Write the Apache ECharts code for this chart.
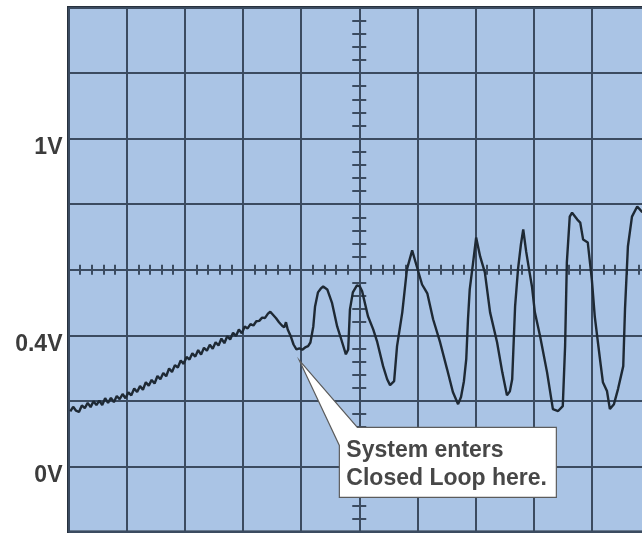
<!DOCTYPE html>
<html>
<head>
<meta charset="utf-8">
<script src="https://cdn.jsdelivr.net/npm/echarts@6/dist/echarts.min.js"></script>
<style>
  html, body { margin: 0; padding: 0; background: #ffffff; }
  #chart { width: 642px; height: 533px; }
</style>
</head>
<body>
<div id="chart"></div>
<script>
// Scope trace: horizontal position in divisions, vertical in volts (0.2 V/div).
// Open-loop ramp up to the moment the controller takes over.
const openLoopTrace = [
  [0.03,0.168],[0.08,0.182],[0.13,0.170],[0.18,0.166],[0.23,0.186],[0.28,0.178],
  [0.33,0.194],[0.38,0.181],[0.43,0.199],[0.48,0.187],[0.53,0.201],[0.58,0.187],
  [0.63,0.208],[0.68,0.194],[0.73,0.209],[0.78,0.196],[0.83,0.215],[0.88,0.205],
  [0.93,0.221],[0.98,0.208],[1.03,0.226],[1.08,0.217],[1.13,0.238],[1.18,0.227],
  [1.23,0.245],[1.28,0.234],[1.33,0.257],[1.38,0.246],[1.43,0.264],[1.48,0.253],
  [1.53,0.276],[1.58,0.266],[1.63,0.285],[1.68,0.275],[1.73,0.299],[1.78,0.288],
  [1.83,0.309],[1.88,0.302],[1.93,0.323],[1.98,0.313],[2.03,0.334],[2.08,0.326],
  [2.13,0.345],[2.18,0.335],[2.23,0.355],[2.28,0.341],[2.33,0.362],[2.38,0.353],
  [2.43,0.371],[2.48,0.359],[2.53,0.379],[2.58,0.369],[2.63,0.390],[2.68,0.376],
  [2.73,0.397],[2.78,0.387],[2.83,0.408],[2.88,0.398],[2.93,0.418],[2.98,0.406],
  [3.03,0.427],[3.08,0.421],[3.13,0.434],[3.18,0.430],[3.23,0.443],[3.28,0.444],
  [3.33,0.454],[3.38,0.453],[3.43,0.466],[3.47,0.472],[3.52,0.462],[3.57,0.452],
  [3.62,0.440],[3.67,0.430],[3.71,0.424],[3.74,0.440],[3.77,0.418],[3.82,0.398],
  [3.87,0.372],[3.92,0.357]
];

// Point where the system enters closed loop.
const loopEntry = [3.97, 0.360];

// Closed-loop oscillation.
const closedLoopTrace = [
  [4.02,0.356],[4.07,0.363],[4.12,0.367],[4.16,0.378],[4.21,0.427],[4.24,0.488],
  [4.29,0.531],[4.34,0.543],[4.38,0.549],[4.41,0.545],[4.45,0.540],[4.53,0.500],
  [4.62,0.427],[4.69,0.388],[4.77,0.342],[4.81,0.357],[4.84,0.479],[4.89,0.531],
  [4.96,0.552],[5.01,0.549],[5.05,0.534],[5.15,0.458],[5.24,0.418],[5.31,0.379],
  [5.41,0.306],[5.48,0.266],[5.53,0.248],[5.60,0.260],[5.65,0.367],[5.74,0.470],
  [5.82,0.601],[5.91,0.659],[5.99,0.610],[6.08,0.555],[6.13,0.540],[6.17,0.528],
  [6.27,0.449],[6.39,0.379],[6.51,0.297],[6.61,0.227],[6.70,0.190],[6.75,0.212],
  [6.80,0.260],[6.84,0.327],[6.87,0.449],[6.90,0.540],[6.96,0.625],[7.01,0.698],
  [7.08,0.640],[7.16,0.592],[7.25,0.470],[7.37,0.379],[7.46,0.287],[7.54,0.217],
  [7.59,0.229],[7.63,0.266],[7.68,0.488],[7.73,0.601],[7.78,0.677],[7.82,0.723],
  [7.87,0.656],[7.92,0.601],[7.97,0.549],[8.02,0.470],[8.11,0.397],[8.23,0.287],
  [8.33,0.175],[8.42,0.169],[8.50,0.184],[8.54,0.367],[8.57,0.622],[8.62,0.762],
  [8.66,0.774],[8.75,0.753],[8.80,0.744],[8.85,0.692],[8.93,0.683],[9.00,0.570],
  [9.05,0.458],[9.14,0.327],[9.19,0.257],[9.26,0.230],[9.31,0.175],[9.38,0.190],
  [9.45,0.236],[9.54,0.306],[9.57,0.479],[9.62,0.671],[9.69,0.762],[9.78,0.793],
  [9.86,0.777],[9.95,0.770]
];

// Vertical scale labels.
const yLabelValues = [0, 0.4, 1];
const yLabelTexts = ['0V', '0.4V', '1V'];

const calloutLines = ['System enters', 'Closed Loop here.'];

const GRID_LINE = '#3b4b60';
const FONT = '"Liberation Sans", Arial, Helvetica, sans-serif';

const chart = echarts.init(document.getElementById('chart'), null, { renderer: 'canvas' });

const hidden = { show: false };
const centreTickStyle = { color: GRID_LINE, width: 2 };

// Helper axis whose zero sits on the horizontal centre line of the screen.
function xCentreTicks(position) {
  return {
    type: 'value', gridIndex: 0, min: 0, max: 10, interval: 1, position: position,
    axisLine: { show: false, onZero: true, onZeroAxisIndex: 1 },
    axisTick: { show: false, inside: false },
    axisLabel: hidden, splitLine: hidden,
    minorTick: { show: true, splitNumber: 5, length: 5, lineStyle: centreTickStyle }
  };
}
// Helper axis placed on the vertical centre line of the screen.
function yCentreTicks(position) {
  return {
    type: 'value', gridIndex: 0, min: -0.2, max: 1.4, interval: 0.2, position: position,
    axisLine: { show: false, onZero: true, onZeroAxisIndex: 3 },
    axisTick: { show: false, inside: false },
    axisLabel: hidden, splitLine: hidden,
    minorTick: { show: true, splitNumber: 5, length: 7, lineStyle: centreTickStyle }
  };
}

chart.setOption({
  animation: false,
  backgroundColor: '#ffffff',
  grid: {
    left: 68.5, top: 7.5, width: 581.5, height: 524.5,
    show: true, backgroundColor: '#aac4e5',
    borderColor: '#27313d', borderWidth: 3,
    outerBoundsMode: 'none', containLabel: false
  },
  xAxis: [
    {
      type: 'value', min: 0, max: 10, interval: 1,
      axisLine: { show: false, onZero: false }, axisTick: hidden, axisLabel: hidden,
      splitLine: { show: true, lineStyle: { color: GRID_LINE, width: 2 } }
    },
    xCentreTicks('bottom'),
    xCentreTicks('top'),
    { type: 'value', min: -5, max: 5, show: false, position: 'bottom' }
  ],
  yAxis: [
    {
      type: 'value', min: -0.2, max: 1.4, interval: 0.2,
      axisLine: { show: false, onZero: false }, axisTick: hidden,
      splitLine: { show: true, lineStyle: { color: GRID_LINE, width: 2 } },
      axisLabel: {
        margin: 6,
        color: '#3c3c3c', fontFamily: FONT, fontWeight: 'bold', fontSize: 23,
        verticalAlign: 'top', lineHeight: 18,
        formatter: function (v) {
          const i = yLabelValues.findIndex(function (t) { return Math.abs(t - v) < 1e-6; });
          return i >= 0 ? yLabelTexts[i] : '';
        }
      }
    },
    { type: 'value', min: -4, max: 4, show: false, position: 'right' },
    yCentreTicks('left'),
    yCentreTicks('right')
  ],
  series: [{
    type: 'line',
    xAxisIndex: 0, yAxisIndex: 0,
    data: openLoopTrace.concat([loopEntry], closedLoopTrace),
    showSymbol: false,
    lineStyle: { color: '#1e2934', width: 2.4 },
    z: 5
  }]
});

// Callout pointing at the closed-loop entry point.
const tip = chart.convertToPixel({ xAxisIndex: 0, yAxisIndex: 0 }, loopEntry);
const tx = tip[0];
const ty = tip[1] + 12;
chart.setOption({
  graphic: [
    {
      type: 'polygon', z: 100,
      shape: {
        points: [
          [tx, ty], [tx + 58, ty + 67], [tx + 257, ty + 67], [tx + 257, ty + 137],
          [tx + 40, ty + 137], [tx + 40, ty + 85]
        ]
      },
      style: { fill: '#ffffff', stroke: '#5c5c5c', lineWidth: 1.2 }
    },
    {
      type: 'text', z: 101,
      x: tx + 47, y: ty + 104,
      style: {
        text: calloutLines.join('\n'),
        fill: '#474747', font: 'bold 23px ' + FONT,
        lineHeight: 28, align: 'left', verticalAlign: 'middle'
      }
    }
  ]
});
</script>
</body>
</html>
